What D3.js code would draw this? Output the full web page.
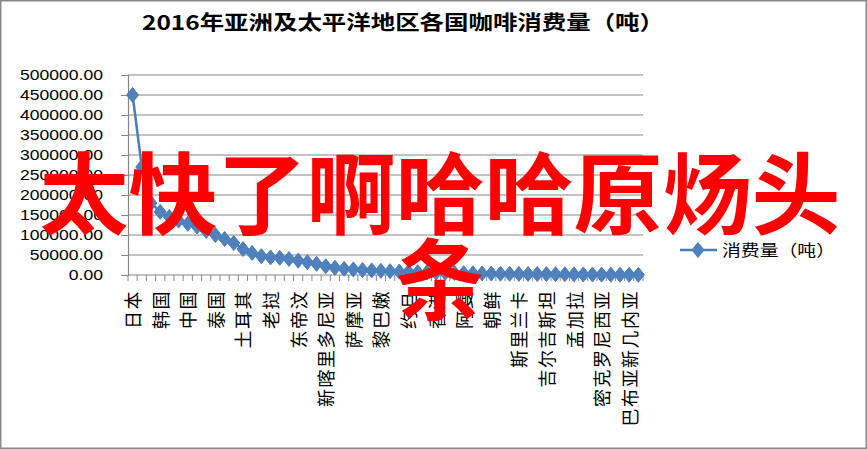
<!DOCTYPE html>
<html>
<head>
<meta charset="utf-8">
<script src="https://cdn.jsdelivr.net/npm/d3@7"></script>
<style>
  body { margin: 0; background: #fff; }
  svg { display: block; }
</style>
</head>
<body>
<div id="chart"></div>
<script>
// 2016 coffee consumption line chart

const FRAME_WIDTH = 867;
const FRAME_HEIGHT = 449;
const MARGINS = {left: 128, right: 224, top: 75, bottom: 174};

const TITLE = "2016年亚洲及太平洋地区各国咖啡消费量（吨）";
const SERIES_NAME = "消费量（吨）";
const WATERMARK = ["太快了啊哈哈原炀头", "条"];

// every third country is labelled on the axis
const countries = [
  "日本", "印度尼西亚", "菲律宾", "韩国", "越南", "印度",
  "中国", "澳大利亚", "马来西亚", "泰国", "以色列", "新西兰",
  "土耳其", "沙特阿拉伯", "新加坡", "老挝", "伊朗", "柬埔寨",
  "东帝汶", "阿联酋", "哈萨克斯坦", "新喀里多尼亚", "斐济", "叙利亚",
  "萨摩亚", "缅甸", "蒙古", "黎巴嫩", "科威特", "卡塔尔",
  "约旦", "巴基斯坦", "也门", "香港", "巴林", "文莱",
  "阿曼", "乌兹别克斯坦", "塔吉克斯坦", "朝鲜", "尼泊尔", "阿富汗",
  "斯里兰卡", "土库曼斯坦", "伊拉克", "吉尔吉斯坦", "马尔代夫", "不丹",
  "孟加拉", "汤加", "瓦努阿图", "密克罗尼西亚", "所罗门群岛", "基里巴斯",
  "巴布亚新几内亚", "马绍尔群岛"
];

const consumption = [
  450000, 270000, 180000, 158000, 145000, 136000,
  128000, 121000, 110000, 100000, 90000, 80000,
  65000, 55000, 47000, 44000, 43000, 40000,
  36000, 32000, 28000, 22000, 18000, 15500,
  14000, 12500, 11500, 10500, 9500, 8500,
  8000, 7000, 6500, 6000, 5500, 5000,
  4600, 4200, 3900, 3600, 3300, 3000,
  2800, 2600, 2400, 2200, 2000, 1800,
  1600, 1400, 1200, 1000, 900, 800,
  700, 600
];

const yTicks = [0, 50000, 100000, 150000, 200000, 250000, 300000, 350000, 400000, 450000, 500000];

const LINE_COLOR = "#4A7EBB";
const GRID_COLOR = "#868686";

const svg = d3.select("#chart")
  .append("svg")
    .attr("width", FRAME_WIDTH)
    .attr("height", FRAME_HEIGHT);

// outer chart border
svg.append("rect")
  .attr("x", 0.75).attr("y", 0.75)
  .attr("width", FRAME_WIDTH - 1.5)
  .attr("height", FRAME_HEIGHT - 1.5)
  .attr("fill", "white")
  .attr("stroke", "#898989")
  .attr("stroke-width", 1.5);

const plotW = FRAME_WIDTH - MARGINS.left - MARGINS.right;
const plotH = FRAME_HEIGHT - MARGINS.top - MARGINS.bottom;

const x = d3.scaleBand()
  .domain(countries)
  .range([MARGINS.left, MARGINS.left + plotW]);

const y = d3.scaleLinear()
  .domain([0, 500000])
  .range([MARGINS.top + plotH, MARGINS.top]);

// gridlines
svg.append("g")
  .selectAll("line")
  .data(yTicks.filter(d => d > 0))
  .enter()
  .append("line")
    .attr("x1", MARGINS.left)
    .attr("x2", MARGINS.left + plotW)
    .attr("y1", d => y(d))
    .attr("y2", d => y(d))
    .attr("stroke", GRID_COLOR)
    .attr("stroke-width", 1);

// y axis
const yAxis = d3.axisLeft(y)
  .tickValues(yTicks)
  .tickSize(7)
  .tickPadding(18)
  .tickFormat(d3.format(".2f"));

const gy = svg.append("g")
  .attr("transform", `translate(${MARGINS.left},0)`)
  .call(yAxis);
gy.select(".domain").attr("stroke", GRID_COLOR).attr("stroke-width", 1.2);
gy.selectAll(".tick line").attr("stroke", GRID_COLOR);
gy.selectAll(".tick text")
  .attr("font-family", "'Liberation Sans', Arial, sans-serif")
  .attr("font-size", 14.5)
  .attr("fill", "#000")
  .each(function() {
    // labels are a bit wider than the font, stretch them
    const w = this.getComputedTextLength();
    d3.select(this)
      .attr("textLength", w * 1.21)
      .attr("lengthAdjust", "spacingAndGlyphs");
  });

// x axis: ticks at category boundaries
const xBase = MARGINS.top + plotH;
svg.append("line")
  .attr("x1", MARGINS.left).attr("x2", MARGINS.left + plotW)
  .attr("y1", xBase).attr("y2", xBase)
  .attr("stroke", GRID_COLOR).attr("stroke-width", 1.2);

svg.append("g")
  .selectAll("line")
  .data(countries.concat(["end"]))
  .enter()
  .append("line")
    .attr("x1", (d, i) => MARGINS.left + i * x.step())
    .attr("x2", (d, i) => MARGINS.left + i * x.step())
    .attr("y1", xBase)
    .attr("y2", xBase + 6)
    .attr("stroke", GRID_COLOR);

// rotated category labels, every third one
svg.append("g")
  .selectAll("text")
  .data(countries.filter((d, i) => i % 3 === 0))
  .enter()
  .append("text")
    .attr("transform", d => `translate(${x(d) + x.bandwidth() / 2 + 7.5},${xBase + 15}) rotate(-90)`)
    .attr("text-anchor", "end")
    .attr("font-family", "'Noto Sans CJK SC', sans-serif")
    .attr("font-size", 18)
    .attr("letter-spacing", 1.5)
    .attr("fill", "#000")
    .text(d => d);

// series line
const pts = countries.map((c, i) => ({c: c, v: consumption[i]}));

svg.append("path")
  .datum(pts)
  .attr("fill", "none")
  .attr("stroke", LINE_COLOR)
  .attr("stroke-width", 2.5)
  .attr("d", d3.line()
    .x(d => x(d.c) + x.bandwidth() / 2)
    .y(d => y(d.v)));

const diamond = "M0,-7.5L6,0L0,7.5L-6,0Z";

svg.append("g")
  .selectAll("path")
  .data(pts)
  .enter()
  .append("path")
    .attr("d", diamond)
    .attr("transform", d => `translate(${x(d.c) + x.bandwidth() / 2},${y(d.v)})`)
    .attr("fill", "#4F81BD")
    .attr("stroke", LINE_COLOR)
    .attr("stroke-width", 1);

// title
svg.append("text")
  .attr("x", 142)
  .attr("y", 30)
  .attr("font-family", "'Noto Sans CJK SC', sans-serif")
  .attr("font-weight", "bold")
  .attr("font-size", 20)
  .attr("textLength", 522)
  .attr("lengthAdjust", "spacingAndGlyphs")
  .text(TITLE);

// legend
svg.append("line")
  .attr("x1", 680).attr("x2", 717)
  .attr("y1", 250).attr("y2", 250)
  .attr("stroke", LINE_COLOR)
  .attr("stroke-width", 2.5);
svg.append("path")
  .attr("d", diamond)
  .attr("transform", "translate(698,250)")
  .attr("fill", "#4F81BD")
  .attr("stroke", LINE_COLOR);
svg.append("text")
  .attr("x", 722)
  .attr("y", 256)
  .attr("font-family", "'Noto Sans CJK SC', sans-serif")
  .attr("font-size", 16)
  .attr("textLength", 113)
  .attr("lengthAdjust", "spacingAndGlyphs")
  .text(SERIES_NAME);

// red overlay text on top
svg.append("g")
  .selectAll("text")
  .data(WATERMARK)
  .enter()
  .append("text")
    .attr("x", 440)
    .attr("y", (d, i) => 227 + i * 86)
    .attr("text-anchor", "middle")
    .attr("font-family", "'Noto Sans CJK SC', sans-serif")
    .attr("font-weight", "bold")
    .attr("font-size", 89)
    .attr("fill", "#FF0000")
    .text(d => d);
</script>
</body>
</html>
